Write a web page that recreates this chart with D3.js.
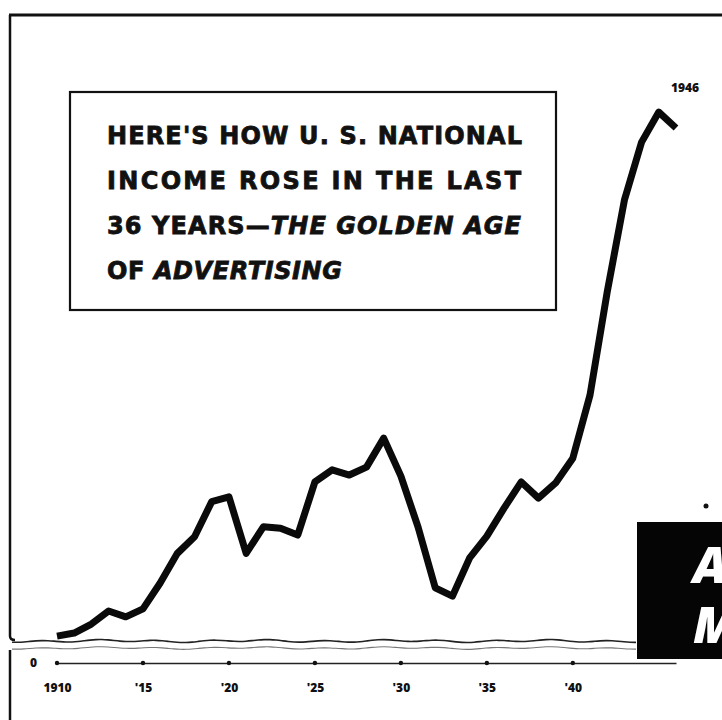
<!DOCTYPE html>
<html>
<head>
<meta charset="utf-8">
<script src="https://cdn.jsdelivr.net/npm/d3@7"></script>
<style>
body { margin: 0; background: #fff; }
svg { display: block; }
</style>
</head>
<body>
<div id="chart"></div>
<script>
// national income, billions
const years = [1910, 1911, 1912, 1913, 1914, 1915, 1916, 1917, 1918, 1919,
    1920, 1921, 1922, 1923, 1924, 1925, 1926, 1927, 1928, 1929,
    1930, 1931, 1932, 1933, 1934, 1935, 1936, 1937, 1938, 1939,
    1940, 1941, 1942, 1943, 1944, 1945, 1946];
const income = [30.1, 31.0, 33.6, 37.4, 35.7, 38.0, 45.5, 54.1, 58.9, 69.1,
    70.5, 54.1, 61.8, 61.4, 59.4, 74.8, 78.3, 76.8, 79.1, 87.5,
    76.5, 61.7, 44.1, 41.7, 52.8, 59.1, 67.2, 74.8, 70.1, 74.5,
    81.7, 100.0, 129.9, 156.5, 173.3, 182.0, 177.4];
const tickYears = [1910, 1915, 1920, 1925, 1930, 1935, 1940];
const tickLabels = ["1910", "'15", "'20", "'25", "'30", "'35", "'40"];
const endLabel = "1946";
const titleLines = [
    [["HERE'S HOW U. S. NATIONAL", false]],
    [["INCOME ROSE IN THE LAST", false]],
    [["36 YEARS\u2014", false], ["THE GOLDEN AGE", true]],
    [["OF ", false], ["ADVERTISING", true]]
];
const cornerLetters = ["A", "M"];

var W = 722, H = 720;
var font = "'Open Sans', 'DejaVu Sans', sans-serif";
var titleFont = "'DejaVu Sans', sans-serif";

var data = years.map(function(yr, i) { return {year: yr, value: income[i]}; });

var svg = d3.select("#chart")
    .append("svg")
    .attr("width", W)
    .attr("height", H);

// broken axis: 0 sits just under the break, the rest is linear
var x = d3.scaleLinear()
    .domain([1910, 1946])
    .range([57, 676]);

var y = d3.scaleLinear()
    .domain([0, 28, 190])
    .range([663, 643.4, 84.5]);

// frame
svg.append("line")
    .attr("x1", 9).attr("x2", W)
    .attr("y1", 15).attr("y2", 15)
    .attr("stroke", "#111").attr("stroke-width", 3);
svg.append("path")
    .attr("d", "M10,15 L10,636 Q10,640 15,640")
    .attr("fill", "none")
    .attr("stroke", "#111").attr("stroke-width", 2.5);
svg.append("line")
    .attr("x1", 10).attr("x2", 10)
    .attr("y1", 650).attr("y2", H)
    .attr("stroke", "#111").attr("stroke-width", 2.5);

// wavy break lines
var wave = function(base, amp) {
    var pts = [];
    for (var px = 12; px <= 640; px += 6) {
        pts.push([px, base + amp * Math.sin(px / 9) + 0.6 * Math.sin(px / 23)]);
    }
    return d3.line().curve(d3.curveBasis)(pts);
};
svg.append("path")
    .attr("d", wave(641, 1.0))
    .attr("fill", "none")
    .attr("stroke", "#222").attr("stroke-width", 1.6);
svg.append("path")
    .attr("d", wave(648, 0.8))
    .attr("fill", "none")
    .attr("stroke", "#777").attr("stroke-width", 1.1);

// title box
svg.append("rect")
    .attr("x", 70).attr("y", 92)
    .attr("width", 486).attr("height", 218)
    .attr("fill", "none")
    .attr("stroke", "#111").attr("stroke-width", 2.2);

var lineWidths = [415, 414, 414, 235];
titleLines.forEach(function(segs, i) {
    var t = svg.append("text")
        .attr("x", 107)
        .attr("y", 144 + i * 45)
        .attr("font-family", titleFont)
        .attr("font-weight", 700)
        .attr("font-size", 24)
        .attr("fill", "#111")
        .attr("stroke", "#111")
        .attr("stroke-width", 0.8)
        .attr("textLength", lineWidths[i])
        .attr("lengthAdjust", "spacing");
    segs.forEach(function(s) {
        t.append("tspan")
            .attr("font-style", s[1] ? "italic" : "normal")
            .text(s[0]);
    });
});

// x axis
var xAxis = d3.axisBottom(x)
    .tickValues(tickYears)
    .tickFormat(function(d, i) { return tickLabels[i]; })
    .tickSize(0)
    .tickSizeOuter(0)
    .tickPadding(20);

var gx = svg.append("g")
    .attr("transform", "translate(0," + y(0) + ")")
    .call(xAxis);
gx.select(".domain")
    .attr("stroke", "#222")
    .attr("stroke-width", 1.6);
gx.selectAll("text")
    .attr("font-family", font)
    .attr("font-weight", 800)
    .attr("font-size", 12)
    .attr("fill", "#111");

gx.selectAll(".tickdot")
    .data(tickYears)
    .enter()
    .append("circle")
    .attr("class", "tickdot")
    .attr("cx", function(d) { return x(d); })
    .attr("cy", 0)
    .attr("r", 2.2)
    .attr("fill", "#111");

// zero label
var gy = svg.append("g")
    .attr("transform", "translate(" + x(1910) + ",0)")
    .call(d3.axisLeft(y).tickValues([0]).tickSize(0).tickPadding(20));
gy.select(".domain").remove();
gy.selectAll("text")
    .attr("font-family", font)
    .attr("font-weight", 800)
    .attr("font-size", 12)
    .attr("fill", "#111");

// income line
svg.append("path")
    .datum(data)
    .attr("fill", "none")
    .attr("stroke", "#0a0a0a")
    .attr("stroke-width", 7)
    .attr("stroke-linejoin", "round")
    .attr("d", d3.line()
        .x(function(d) { return x(d.year); })
        .y(function(d) { return y(d.value); })
        .curve(d3.curveLinear));

svg.append("text")
    .attr("x", x(1946) + 9)
    .attr("y", 92)
    .attr("text-anchor", "middle")
    .attr("font-family", font)
    .attr("font-weight", 800)
    .attr("font-size", 12)
    .attr("fill", "#111")
    .text(endLabel);

// black panel at lower right
svg.append("circle")
    .attr("cx", 706).attr("cy", 506).attr("r", 2.5)
    .attr("fill", "#111");
svg.append("rect")
    .attr("x", 637).attr("y", 522)
    .attr("width", W - 637).attr("height", 137)
    .attr("fill", "#050505");
cornerLetters.forEach(function(c, i) {
    svg.append("text")
        .attr("x", 693)
        .attr("y", 583 + i * 60)
        .attr("font-family", font)
        .attr("font-weight", 800)
        .attr("font-style", "italic")
        .attr("font-size", 50)
        .attr("fill", "#fff")
        .text(c);
});
</script>
</body>
</html>
